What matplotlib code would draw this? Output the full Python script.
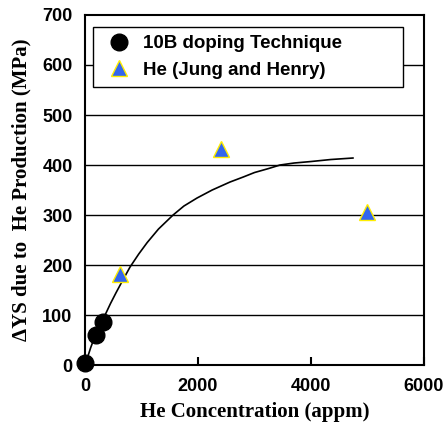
import matplotlib.pyplot as plt
import numpy as np

# 10B doping data
b10_x = [0, 195, 320]
b10_y = [5, 60, 87]

# He data (Jung and Henry)
he_x = [620, 2410, 4990]
he_y = [183, 432, 306]

# trend curve
fit_x = [0, 100, 200, 354, 450, 550, 650, 796, 950, 1100, 1300, 1558, 1750,
         1982, 2250, 2566, 2800, 3000, 3250, 3451, 3700, 4000, 4350, 4743]
fit_y = [0, 35, 65, 100, 123, 145, 166, 196, 222, 245, 272, 300, 318,
         334, 350, 366, 376, 385, 393, 400, 404, 407, 411, 414]

fig = plt.figure(figsize=(4.43, 4.28), dpi=100)
ax = fig.add_axes([0.192, 0.147, 0.765, 0.818])

for yv in range(100, 700, 100):
    ax.axhline(yv, color='black', lw=1.0, zorder=1)

ax.plot(fit_x, fit_y, color='black', lw=1.2, zorder=2)
ax.plot(b10_x, b10_y, 'o', color='black', markersize=12, zorder=3,
        label='10B doping Technique', clip_on=False)
ax.plot(he_x, he_y, '^', markerfacecolor='#3366ee', markeredgecolor='#ffee00',
        markeredgewidth=1.0, markersize=11, zorder=3,
        label='He (Jung and Henry)')

ax.set_xlim(0, 6000)
ax.set_ylim(0, 700)
ax.set_xticks([0, 2000, 4000, 6000])
ax.set_yticks(range(0, 800, 100))

tick_font = dict(family='Liberation Sans', weight='bold', size=13)
ax.set_xticklabels(['0', '2000', '4000', '6000'], fontdict=tick_font)
ax.set_yticklabels([str(v) for v in range(0, 800, 100)], fontdict=tick_font)
ax.tick_params(axis='x', direction='in', length=6, width=1.5, pad=9)
ax.tick_params(axis='y', direction='out', length=0, pad=9)

for sp in ax.spines.values():
    sp.set_linewidth(1.5)

label_font = dict(family='Liberation Serif', weight='bold', size=15)
ax.set_xlabel('He Concentration (appm)', fontdict=label_font, labelpad=5)
ax.set_ylabel('\u0394YS due to  He Production (MPa)', fontdict=label_font, labelpad=8)

leg = ax.legend(loc='upper left', bbox_to_anchor=(0.024, 0.794, 0.914, 0.172),
                mode='expand', frameon=True,
                fancybox=False, edgecolor='black', framealpha=1,
                prop=dict(family='Liberation Sans', weight='bold', size=13.5),
                handletextpad=0.4, borderpad=0.45, labelspacing=0.5,
                handlelength=1.8, borderaxespad=0)
leg.get_frame().set_linewidth(1.0)
leg.set_zorder(5)

fig.savefig('out.png', dpi=100)
